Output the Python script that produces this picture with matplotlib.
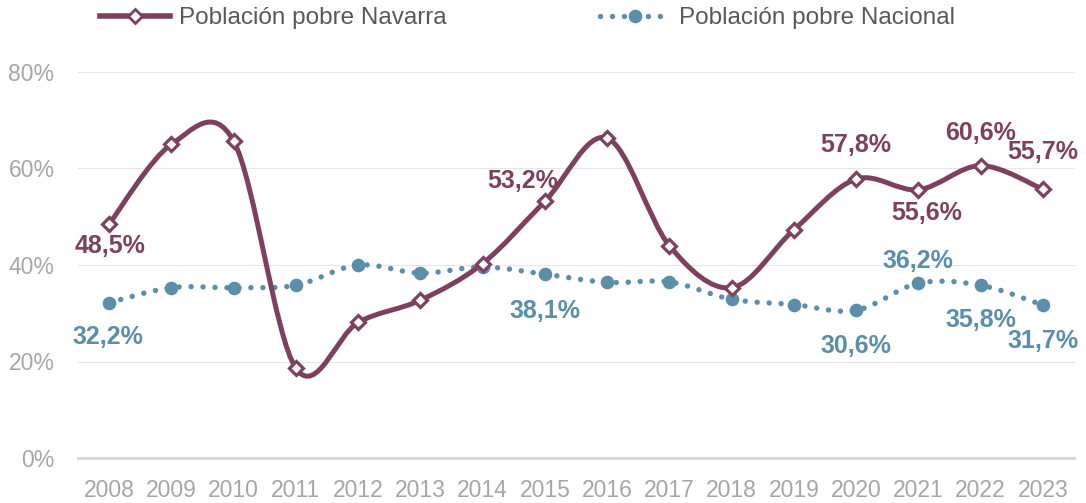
"""
Población pobre: Navarra frente a la media nacional, 2008-2023.
Líneas suavizadas (Bézier) con etiquetas de valor en años clave.
"""
import matplotlib.pyplot as plt
import numpy as np
from matplotlib.lines import Line2D
from matplotlib.patches import PathPatch
from matplotlib.path import Path

plt.rcParams["font.family"] = ["Liberation Sans", "DejaVu Sans"]

COLOR_NAV = "#7D405E"
COLOR_NAC = "#5B8EA8"
COLOR_TICK = "#A6A6A6"
COLOR_LEGEND = "#595959"

years = ["2008", "2009", "2010", "2011", "2012", "2013", "2014", "2015",
         "2016", "2017", "2018", "2019", "2020", "2021", "2022", "2023"]
navarra = [48.5, 65.0, 65.7, 18.6, 28.1, 32.7, 40.3, 53.2,
           66.3, 44.0, 35.3, 47.3, 57.8, 55.6, 60.6, 55.7]
nacional = [32.2, 35.3, 35.3, 35.8, 40.0, 38.3, 39.6, 38.1,
            36.4, 36.5, 32.9, 31.8, 30.6, 36.2, 35.8, 31.7]

# which points get a value label, and the label offset in pixels (dx, dy up)
nav_labels = {0: (1, -22), 7: (-22, 20), 12: (0, 34), 13: (8, -23), 14: (0, 33), 15: (0, 37)}
nac_labels = {0: (-1, -34), 7: (0, -37), 12: (0, -36), 13: (0, 22), 14: (0, -35), 15: (0, -36)}

DOTS = (0, (0.01, 2.2))


def smooth_path(ys):
    """Cubic Bezier through every point, tangents like a Catmull-Rom spline."""
    pts = np.column_stack([np.arange(len(ys)), ys]).astype(float)
    n = len(pts)
    verts = [pts[0]]
    codes = [Path.MOVETO]
    for i in range(n - 1):
        p_prev = pts[max(i - 1, 0)]
        p0, p1 = pts[i], pts[i + 1]
        p_next = pts[min(i + 2, n - 1)]
        c1 = p0 + (p1 - p_prev) / 6.0
        c2 = p1 - (p_next - p0) / 6.0
        verts += [c1, c2, p1]
        codes += [Path.CURVE4] * 3
    return Path(verts, codes)


def fmt(v):
    return f"{v:.1f}".replace(".", ",") + "%"


fig = plt.figure(figsize=(10.86, 5.03), dpi=100)
ax = fig.add_axes([78 / 1086, 45 / 503, (1074 - 78) / 1086, (458 - 72) / 503])

x = np.arange(len(years))
ax.set_xlim(-0.5, len(years) - 0.5)
ax.set_ylim(0, 80)

# gridlines
for g in (20, 40, 60, 80):
    ax.axhline(g, color="#E6E6E6", lw=0.8, zorder=0, clip_on=False)
ax.axhline(0, color="#D9D9D9", lw=2.2, zorder=0, clip_on=False)

px = 0.72  # points per pixel at 100 dpi

# Nacional: dotted smooth line with round markers
ax.add_patch(PathPatch(smooth_path(nacional), fill=False, edgecolor=COLOR_NAC,
                       lw=3.9, linestyle=DOTS, capstyle="round", zorder=2))
ax.plot(x, nacional, linestyle="none", marker="o", markersize=8.8,
        color=COLOR_NAC, zorder=3)

# Navarra: solid smooth line with open diamonds
ax.add_patch(PathPatch(smooth_path(navarra), fill=False, edgecolor=COLOR_NAV,
                       lw=3.6, capstyle="round", zorder=4))
ax.plot(x, navarra, linestyle="none", marker="D", markersize=7.5,
        markerfacecolor="white", markeredgecolor=COLOR_NAV, markeredgewidth=2.3, zorder=5)

for series, labels, color in [(navarra, nav_labels, COLOR_NAV), (nacional, nac_labels, COLOR_NAC)]:
    for i, (dx, dy) in labels.items():
        ax.annotate(fmt(series[i]), (x[i], series[i]), textcoords="offset points",
                    xytext=(dx * px, dy * px), ha="center", va="center",
                    fontsize=18, fontweight="bold", color=color, zorder=6)

ax.set_xticks(x)
ax.set_xticklabels(years)
ax.set_yticks([0, 20, 40, 60, 80])
ax.set_yticklabels([f"{t}%" for t in (0, 20, 40, 60, 80)])
ax.tick_params(axis="both", length=0, labelsize=16.5, colors=COLOR_TICK)
ax.tick_params(axis="x", pad=15)
ax.tick_params(axis="y", pad=17)
for s in ax.spines.values():
    s.set_visible(False)

handles = [
    Line2D([], [], color=COLOR_NAV, lw=4, marker="D", markersize=7,
           markerfacecolor="white", markeredgecolor=COLOR_NAV, markeredgewidth=2),
    Line2D([], [], color=COLOR_NAC, lw=3.9, linestyle=DOTS,
           dash_capstyle="round", marker="o", markersize=8.8),
]
fig.legend(handles, ["Población pobre Navarra", "Población pobre Nacional"],
           loc="upper left", bbox_to_anchor=(100 / 1086, 1 - 7 / 503), ncol=2,
           frameon=False, fontsize=17.5, labelcolor=COLOR_LEGEND,
           handlelength=2.9, handletextpad=0.35, columnspacing=6.3,
           borderpad=0, borderaxespad=0)

fig.savefig("out.png", dpi=100)
